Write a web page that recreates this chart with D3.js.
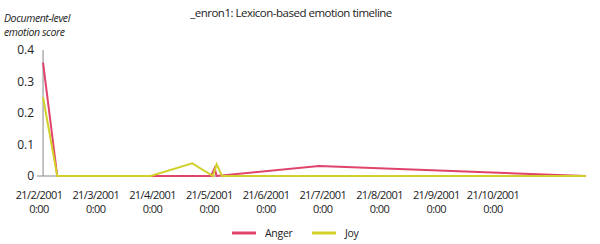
<!DOCTYPE html>
<html>
<head>
<meta charset="utf-8">
<script src="https://d3js.org/d3.v7.min.js"></script>
<style>
  body { margin: 0; background: #fff; }
  text { font-family: "Open Sans", "Noto Sans", sans-serif; fill: #222; }
</style>
</head>
<body>
<svg id="svg"></svg>
<script>
// series (dates are day/month/year)
const angerDates  = ["23/2/2001", "2/3/2001", "22/5/2001", "24/5/2001", "25/5/2001", "19/7/2001", "10/12/2001"];
const angerValues = [0.36, 0, 0, 0.025, 0, 0.032, 0];
const joyDates    = ["23/2/2001", "2/3/2001", "20/4/2001", "12/5/2001", "23/5/2001", "25/5/2001", "28/5/2001", "10/12/2001"];
const joyValues   = [0.25, 0, 0, 0.04, 0, 0.037, 0, 0];
const xTickLabels = ["21/2/2001", "21/3/2001", "21/4/2001", "21/5/2001", "21/6/2001", "21/7/2001", "21/8/2001", "21/9/2001", "21/10/2001"];
const yTicks = [0, 0.1, 0.2, 0.3, 0.4];
const seriesNames = ["Anger", "Joy"];
const colors = ["#e0436b", "#d2d12c"];

const width = 600, height = 244;
const svg = d3.select("#svg").attr("width", width).attr("height", height);

const parse = d3.timeParse("%d/%m/%Y");

// axis ticks sit on the 21st of each month, evenly spaced, so map dates to a month position
function monthPos(d) {
  let k = 0;
  while (new Date(2001, 2 + k, 21) <= d) k++;
  const a = new Date(2001, 1 + k, 21), b = new Date(2001, 2 + k, 21);
  return k + (d - a) / (b - a);
}

const x = d3.scaleLinear().domain([0, 8]).range([39, 493]);
const y = d3.scaleLinear().domain([0, 0.4]).range([176, 50]);

const series = [
  { name: seriesNames[0], color: colors[0], pts: angerDates.map((d, i) => ({ m: monthPos(parse(d)), v: angerValues[i] })) },
  { name: seriesNames[1], color: colors[1], pts: joyDates.map((d, i) => ({ m: monthPos(parse(d)), v: joyValues[i] })) }
];

const x0 = x(series[0].pts[0].m);
const x1 = x(series[0].pts[series[0].pts.length - 1].m);

// axes
svg.append("line").attr("x1", x0).attr("x2", x0).attr("y1", y(0.4)).attr("y2", y(0))
  .attr("stroke", "#888").attr("stroke-width", 1);
svg.append("line").attr("x1", x0 - 6).attr("x2", x1).attr("y1", y(0)).attr("y2", y(0))
  .attr("stroke", "#888").attr("stroke-width", 1);

svg.selectAll(".ytick").data(yTicks).enter().append("text")
  .attr("class", "ytick")
  .attr("x", 34).attr("y", d => y(d)).attr("dy", "0.35em")
  .attr("text-anchor", "end").attr("font-size", 12)
  .text(d => d === 0 ? "0" : d3.format(".1f")(d));

const xt = svg.selectAll(".xtick").data(xTickLabels).enter().append("text")
  .attr("class", "xtick")
  .attr("text-anchor", "middle").attr("font-size", 11).attr("letter-spacing", -0.6);
xt.append("tspan").attr("x", (d, i) => x(i)).attr("y", 199).text(d => d);
xt.append("tspan").attr("x", (d, i) => x(i)).attr("y", 213).text("0:00");

// lines
const line = d3.line().x(d => x(d.m)).y(d => y(d.v));
svg.selectAll(".series").data(series).enter().append("path")
  .attr("class", "series")
  .attr("d", d => line(d.pts))
  .attr("fill", "none")
  .attr("stroke", d => d.color)
  .attr("stroke-width", 2)
  .attr("stroke-linejoin", "miter");

// titles
svg.append("text").attr("x", 291).attr("y", 17).attr("text-anchor", "middle")
  .attr("font-size", 11.5).attr("letter-spacing", -0.5)
  .text("_enron1: Lexicon-based emotion timeline");
svg.append("text").attr("x", 4).attr("y", 22).attr("font-size", 10.5).attr("font-style", "italic")
  .attr("letter-spacing", -0.4).text("Document-level");
svg.append("text").attr("x", 4).attr("y", 36).attr("font-size", 10.5).attr("font-style", "italic")
  .attr("letter-spacing", -0.4).text("emotion score");

// legend
const lg = svg.selectAll(".legend").data(series).enter().append("g")
  .attr("class", "legend")
  .attr("transform", (d, i) => `translate(${232 + i * 80}, 233)`);
lg.append("line").attr("x1", 0).attr("x2", 24).attr("y1", 0).attr("y2", 0)
  .attr("stroke", d => d.color).attr("stroke-width", 3);
lg.append("text").attr("x", 33).attr("y", 0).attr("dy", "0.35em").attr("font-size", 10.5)
  .attr("letter-spacing", -0.3)
  .text(d => d.name);
</script>
</body>
</html>
